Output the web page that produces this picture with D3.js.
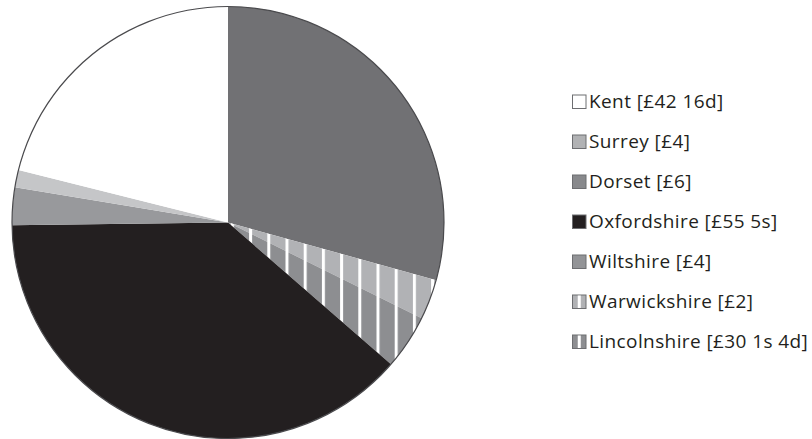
<!DOCTYPE html>
<html>
<head>
<meta charset="utf-8">
<script src="https://cdn.jsdelivr.net/npm/d3@7"></script>
<style>
  body { margin: 0; background: #fff; }
  svg { display: block; }
</style>
</head>
<body>
<svg width="812" height="439"></svg>
<script>
// slices in the order they run clockwise from 12 o'clock
var sliceNames = ["Dorset", "Warwickshire", "Lincolnshire", "Oxfordshire", "Wiltshire", "Surrey", "Kent"];
// share of the circle (%)
var sliceShares = [29.3, 3.0, 4.1, 38.4, 2.8, 1.3, 21.1];

// legend rows, top to bottom
var legendNames = ["Kent", "Surrey", "Dorset", "Oxfordshire", "Wiltshire", "Warwickshire", "Lincolnshire"];
var legendLabels = ["Kent [£42 16d]", "Surrey [£4]", "Dorset [£6]", "Oxfordshire [£55 5s]",
  "Wiltshire [£4]", "Warwickshire [£2]", "Lincolnshire [£30 1s 4d]"];

var fills = {
  Kent: "#ffffff",
  Surrey: "#c5c6c8",
  Dorset: "#717174",
  Oxfordshire: "#231f20",
  Wiltshire: "#98999c",
  Warwickshire: "#b1b2b5",
  Lincolnshire: "#8d8e91"
};
// the legend swatches print a little lighter than the slices
var swatchFills = {
  Kent: "#ffffff",
  Surrey: "#b1b2b4",
  Dorset: "#88898c",
  Oxfordshire: "#231f20",
  Wiltshire: "#939497",
  Warwickshire: "#b1b2b5",
  Lincolnshire: "#8d8e91"
};
var striped = { Warwickshire: true, Lincolnshire: true };

var svg = d3.select("svg");
var cx = 228, cy = 222.5, r = 216;

// vertical white stripes for the two striped counties
var defs = svg.append("defs");
Object.keys(striped).forEach(function (name) {
  var p = defs.append("pattern")
    .attr("id", "stripe-" + name)
    .attr("patternUnits", "userSpaceOnUse")
    .attr("x", 239.5)
    .attr("y", 0)
    .attr("width", 18.2)
    .attr("height", 20);
  p.append("rect").attr("width", 18.2).attr("height", 20).attr("fill", fills[name]);
  p.append("rect").attr("width", 3).attr("height", 20).attr("fill", "#ffffff");
});

function fillFor(name) {
  return striped[name] ? "url(#stripe-" + name + ")" : fills[name];
}

var pieData = sliceNames.map((n, i) => ({ name: n, value: sliceShares[i] }));
var pie = d3.pie().sort(null).value((d) => d.value);
var arc = d3.arc().innerRadius(0).outerRadius(r);

var g = svg.append("g");

g.selectAll("path")
  .data(pie(pieData))
  .enter()
  .append("path")
  .attr("transform", "translate(" + cx + "," + cy + ")")
  .attr("d", arc)
  .attr("fill", (d) => fillFor(d.data.name));

// outline of the pie
g.append("circle")
  .attr("cx", cx)
  .attr("cy", cy)
  .attr("r", r)
  .attr("fill", "none")
  .attr("stroke", "#4a4a4d")
  .attr("stroke-width", 1.2);

// legend
var legendY = d3.scalePoint().domain(legendNames).range([101.5, 341.5]);

var items = svg.selectAll(".legend-item")
  .data(legendNames)
  .enter()
  .append("g")
  .attr("class", "legend-item")
  .attr("transform", (d) => "translate(572," + legendY(d) + ")");

items.append("rect")
  .attr("x", 0.5)
  .attr("y", -6.5)
  .attr("width", 13.5)
  .attr("height", 13.5)
  .attr("fill", (d) => swatchFills[d])
  .attr("stroke", "#6d6e71")
  .attr("stroke-width", 1);

items.filter((d) => striped[d])
  .append("rect")
  .attr("x", 5.75)
  .attr("y", -6)
  .attr("width", 3)
  .attr("height", 12.5)
  .attr("fill", "#ffffff");

items.append("text")
  .attr("x", 17)
  .attr("y", 0)
  .attr("dy", "0.36em")
  .attr("font-family", "'Open Sans', sans-serif")
  .attr("font-size", "19px")
  .attr("letter-spacing", "0.4px")
  .attr("fill", "#231f20")
  .text((d, i) => legendLabels[i]);
</script>
</body>
</html>
